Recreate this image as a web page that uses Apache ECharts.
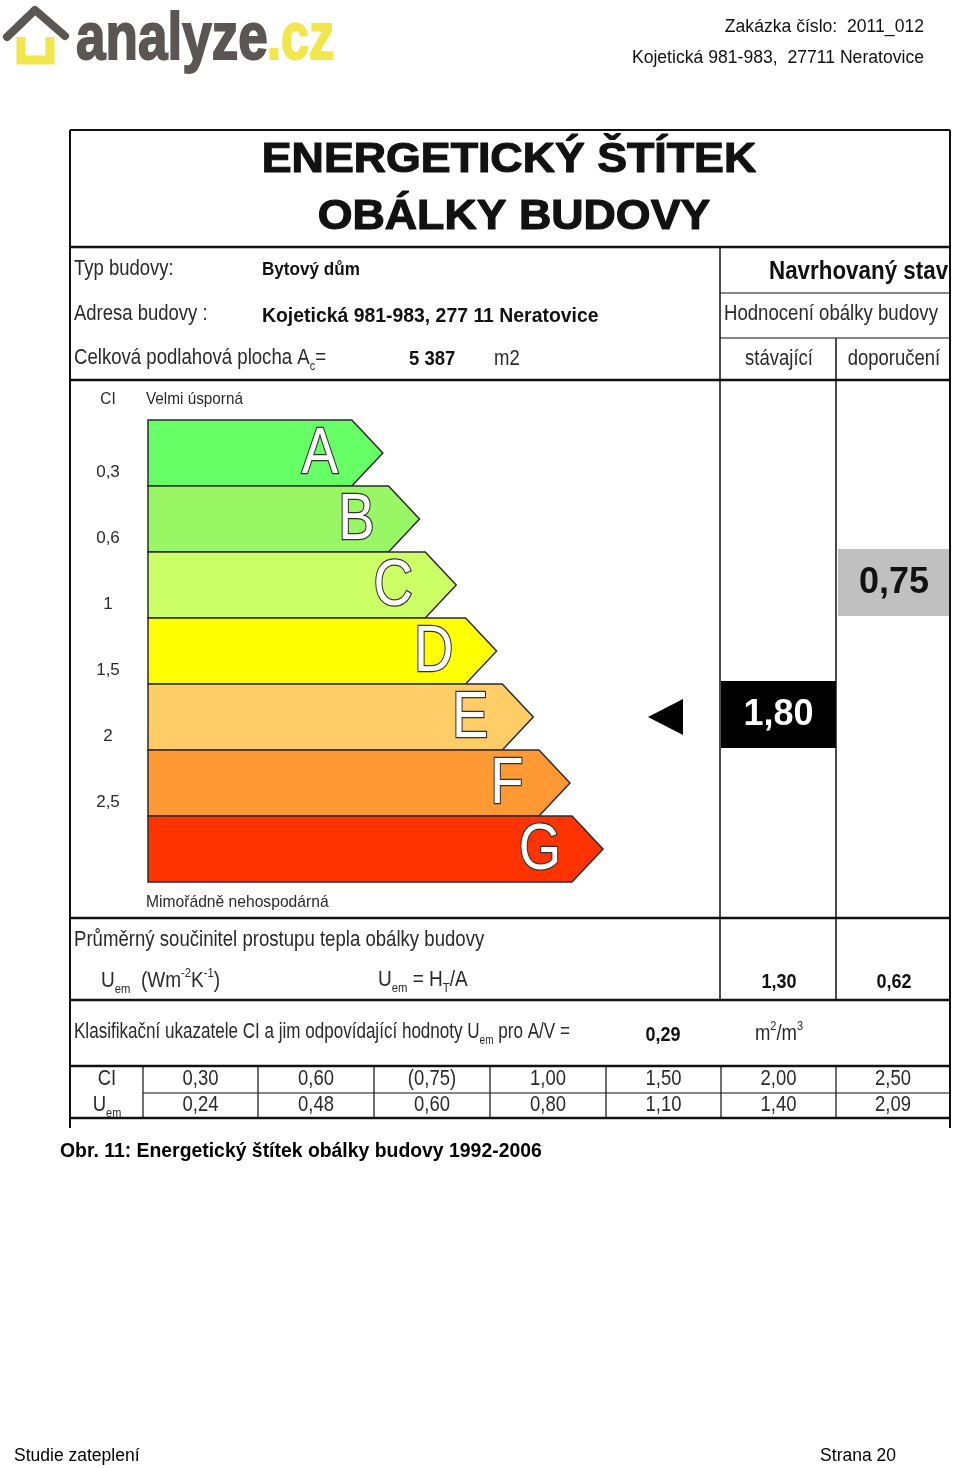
<!DOCTYPE html>
<html>
<head>
<meta charset="utf-8">
<script src="https://cdn.jsdelivr.net/npm/echarts@6.0.0/dist/echarts.min.js"></script>
<style>
html,body{margin:0;padding:0;background:#fff;}
#chart{width:960px;height:1468px;}
</style>
</head>
<body>
<div id="chart"></div>
<script>
// ---------------- data ----------------
const classes = ['A', 'B', 'C', 'D', 'E', 'F', 'G'];
const barLength = [6.4, 7.4, 8.4, 9.5, 10.5, 11.5, 12.4];   // relative arrow lengths
const ciTicks = ['0,3', '0,6', '1', '1,5', '2', '2,5'];
const ciThresholds = [0.3, 0.6, 1.0, 1.5, 2.0, 2.5];
const ratingColumns = ['stávající', 'doporučení'];
const ratingCI = [1.80, 0.75];
const uemValues = [1.30, 0.62];
const avRatio = 0.29;
const floorArea = '5 387';
const tableCI = ['0,30', '0,60', '(0,75)', '1,00', '1,50', '2,00', '2,50'];
const tableUem = ['0,24', '0,48', '0,60', '0,80', '1,10', '1,40', '2,09'];

// ---------------- style ----------------
const classColors = ['#66ff66', '#99f766', '#ccff66', '#ffff00', '#ffcc66', '#ff9933', '#ff3300'];
const FONT = '"Liberation Sans", Arial, Helvetica, sans-serif';
const fmt = v => v.toFixed(2).replace('.', ',');
const classOf = v => { const i = ciThresholds.findIndex(t => v <= t); return i < 0 ? classes.length - 1 : i; };

function txt(x, y, text, o) {
  o = o || {};
  const size = o.size || 22;
  const base = { fontFamily: FONT, fontSize: size, fontWeight: o.bold ? 'bold' : 'normal', fill: o.color || '#2a2a2a' };
  const rich = {
    sub: Object.assign({}, base, { fontSize: Math.round(size * 0.6), lineHeight: Math.round(size * 0.6), verticalAlign: 'bottom' }),
    sup: Object.assign({}, base, { fontSize: Math.round(size * 0.6), lineHeight: Math.round(size * 0.6), verticalAlign: 'top' })
  };
  return {
    type: 'text', x: x, y: y, scaleX: o.sx || 1, scaleY: o.sy || 1, z: 20,
    style: Object.assign({}, base, {
      text: text, x: 0, y: 0, lineHeight: Math.round(size * 1.3),
      align: o.align || 'left', verticalAlign: 'middle', textAlign: o.align || 'left', textVerticalAlign: 'middle',
      rich: rich, stroke: o.stroke, lineWidth: o.lineWidth || 0
    })
  };
}
function ln(x1, y1, x2, y2, w) {
  return { type: 'line', z: 15, shape: { x1: x1, y1: y1, x2: x2, y2: y2 }, style: { stroke: '#111', lineWidth: w || 1 } };
}

const N = 0.84; // narrow factor for 22px labels
const g = [];
// logo
g.push({ type: 'polyline', z: 10, shape: { points: [[7, 37], [35, 10], [65, 36]] }, style: { stroke: '#5b5553', lineWidth: 8, lineCap: 'round', lineJoin: 'round', fill: null } });
g.push({ type: 'polyline', z: 10, shape: { points: [[21, 37], [21, 60], [50, 60], [50, 37]] }, style: { stroke: '#f1e64b', lineWidth: 9, lineJoin: 'miter', fill: null } });
g.push(txt(76, 40, 'analyze', { size: 52, bold: true, sy: 1.3, sx: 1.02, color: '#5b5553', stroke: '#5b5553', lineWidth: 1.5 }));
g.push(txt(267, 40, '.cz', { size: 52, bold: true, sy: 1.3, sx: 0.97, color: '#f1e64b', stroke: '#f1e64b', lineWidth: 1.5 }));
// header
g.push(txt(924, 27, 'Zakázka číslo:  2011_012', { size: 17.6, align: 'right', color: '#111' }));
g.push(txt(924, 58, 'Kojetická 981-983,  27711 Neratovice', { size: 17.6, align: 'right', color: '#111' }));

// frame
g.push(ln(70, 130, 950, 130, 2));
g.push(ln(70, 130, 70, 1128, 2));
g.push(ln(950, 130, 950, 1128, 2));
[247, 380, 918, 1000, 1066, 1118].forEach(y => g.push(ln(70, y, 950, y, 2.5)));
g.push(ln(720, 293, 950, 293, 1.2));
g.push(ln(720, 338, 950, 338, 1.2));
g.push(ln(720, 247, 720, 1000, 1.5));
g.push(ln(836, 338, 836, 1000, 1.5));
g.push(ln(143, 1093, 950, 1093, 1.2));
[143, 258, 374, 490, 606, 721, 836].forEach(x => g.push(ln(x, 1066, x, 1118, 1.2)));

// title
g.push(txt(509, 160, 'ENERGETICKÝ ŠTÍTEK', { size: 43, bold: true, align: 'center', sx: 1.04, color: '#111', stroke: '#111', lineWidth: 1.2 }));
g.push(txt(514, 217, 'OBÁLKY BUDOVY', { size: 43, bold: true, align: 'center', sx: 1.04, color: '#111', stroke: '#111', lineWidth: 1.2 }));

// info rows
g.push(txt(74, 269, 'Typ budovy:', { sx: N }));
g.push(txt(262, 270, 'Bytový dům', { bold: true, sx: 0.9, size: 19, color: '#111' }));
g.push(txt(74, 314, 'Adresa budovy :', { sx: N }));
g.push(txt(262, 316, 'Kojetická 981-983, 277 11 Neratovice', { bold: true, sx: 0.97, size: 20, color: '#111' }));
g.push(txt(74, 358, 'Celková podlahová plocha A{sub|c}=', { sx: 0.845 }));
g.push(txt(409, 360, floorArea, { bold: true, sx: 0.95, size: 19.5, color: '#111' }));
g.push(txt(494, 359, 'm2', { sx: N }));
g.push(txt(769, 272, 'Navrhovaný stav', { bold: true, size: 25, sx: 0.895, color: '#111' }));
g.push(txt(724, 314, 'Hodnocení obálky budovy', { sx: 0.845 }));
g.push(txt(779, 359, ratingColumns[0], { sx: N, align: 'center' }));
g.push(txt(894, 359, ratingColumns[1], { sx: N, align: 'center' }));

// scale captions
g.push(txt(108, 399, 'CI', { size: 17, sx: 0.9, align: 'center' }));
g.push(txt(146, 399, 'Velmi úsporná', { size: 17, sx: 0.9 }));
g.push(txt(146, 902, 'Mimořádně nehospodárná', { size: 17, sx: 0.92 }));

// Uem row
g.push(txt(74, 940, 'Průměrný součinitel prostupu tepla obálky budovy', { sx: 0.845 }));
g.push(txt(101, 981, 'U{sub|em}  (Wm{sup|-2}K{sup|-1})', { sx: 0.865 }));
g.push(txt(378, 980, 'U{sub|em} = H{sub|T}/A', { sx: 0.865 }));
g.push(txt(779, 982, fmt(uemValues[0]), { bold: true, size: 20, sx: 0.9, align: 'center', color: '#111' }));
g.push(txt(894, 982, fmt(uemValues[1]), { bold: true, size: 20, sx: 0.9, align: 'center', color: '#111' }));

// classification row
g.push(txt(74, 1032, 'Klasifikační ukazatele CI a jim odpovídající hodnoty U{sub|em} pro A/V =', { sx: 0.775 }));
g.push(txt(663, 1035, fmt(avRatio), { bold: true, size: 20, sx: 0.9, align: 'center', color: '#111' }));
g.push(txt(779, 1034, 'm{sup|2}/m{sup|3}', { sx: N, align: 'center' }));

// table
const colX = [143, 258, 374, 490, 606, 721, 836, 950];
g.push(txt(107, 1079, 'CI', { sx: N, align: 'center' }));
g.push(txt(107, 1105, 'U{sub|em}', { sx: N, align: 'center' }));
tableCI.forEach((t, i) => g.push(txt((colX[i] + colX[i + 1]) / 2, 1079, t, { sx: N, align: 'center' })));
tableUem.forEach((t, i) => g.push(txt((colX[i] + colX[i + 1]) / 2, 1105, t, { sx: N, align: 'center' })));

// caption + footer
g.push(txt(60, 1152, 'Obr. 11: Energetický štítek obálky budovy 1992-2006', { size: 19.4, bold: true, color: '#000' }));
g.push(txt(14, 1456, 'Studie zateplení', { size: 17.5, color: '#000' }));
g.push(txt(896, 1456, 'Strana 20', { size: 17.5, color: '#000', align: 'right' }));

// ---------------- chart ----------------
const TIP = 31;
const chart = echarts.init(document.getElementById('chart'), null, { renderer: 'canvas' });
const option = {
  backgroundColor: '#fff',
  animation: false,
  grid: { left: 148, top: 420, width: 477, height: 462 },
  xAxis: { type: 'value', min: 0, max: 13, show: false },
  yAxis: [
    { type: 'category', data: classes, inverse: true, show: false },
    {
      type: 'category', data: [''].concat(ciTicks, ['']), inverse: true, boundaryGap: false,
      position: 'left', axisLine: { show: false }, axisTick: { show: false }, splitLine: { show: false },
      axisLabel: { interval: 0, align: 'center', verticalAlign: 'bottom', lineHeight: 27, margin: 40, fontSize: 17, fontFamily: FONT, color: '#2a2a2a' }
    }
  ],
  series: [
    {
      type: 'custom', name: 'třídy', yAxisIndex: 0,
      data: classes.map((c, i) => [barLength[i], i]),
      encode: { x: 0, y: 1 },
      renderItem: function (params, api) {
        const i = api.value(1);
        const tip = api.coord([api.value(0), i]);
        const start = api.coord([0, i]);
        const band = api.size([0, 1])[1];
        const top = tip[1] - band / 2, bot = tip[1] + band / 2, sh = tip[0] - TIP;
        return {
          type: 'group', children: [
            { type: 'polygon', shape: { points: [[start[0], top], [sh, top], [tip[0], tip[1]], [sh, bot], [start[0], bot]] },
              style: { fill: classColors[i], stroke: '#2b2b2b', lineWidth: 1.5 } },
            { type: 'text', x: tip[0] - 63, y: tip[1] + 2, scaleX: 0.88, scaleY: 1.03,
              style: { text: classes[i], fontSize: 62, fontFamily: FONT, fill: '#fff', stroke: '#333', lineWidth: 2.4, align: 'center', verticalAlign: 'middle' } }
          ]
        };
      }
    },
    {
      type: 'custom', name: 'hodnocení', yAxisIndex: 0, clip: false,
      data: ratingCI.map((v, j) => [j, classOf(v), v]),
      encode: { x: 0, y: 1 },
      renderItem: function (params, api) {
        const j = api.value(0);
        const row = api.value(1);
        const c = api.coord([0, row]);
        const band = api.size([0, 1])[1];
        const left = [721, 838][j], right = [836, 950][j];
        const children = [
          { type: 'rect', shape: { x: left, y: c[1] - band / 2 - 3, width: right - left, height: band + 1 },
            style: { fill: j === 0 ? '#000' : '#c0c0c0' } },
          { type: 'text', x: (left + right) / 2, y: c[1] - 2,
            style: { text: fmt(api.value(2)), fontSize: 36, fontWeight: 'bold', fontFamily: FONT, fill: j === 0 ? '#fff' : '#111', align: 'center', verticalAlign: 'middle' } }
        ];
        if (j === 0) {
          children.push({ type: 'polygon', shape: { points: [[648, c[1]], [683, c[1] - 18], [683, c[1] + 18]] }, style: { fill: '#000' } });
        }
        return { type: 'group', children: children };
      }
    }
  ],
  graphic: { elements: g }
};
chart.setOption(option);
</script>
</body>
</html>
